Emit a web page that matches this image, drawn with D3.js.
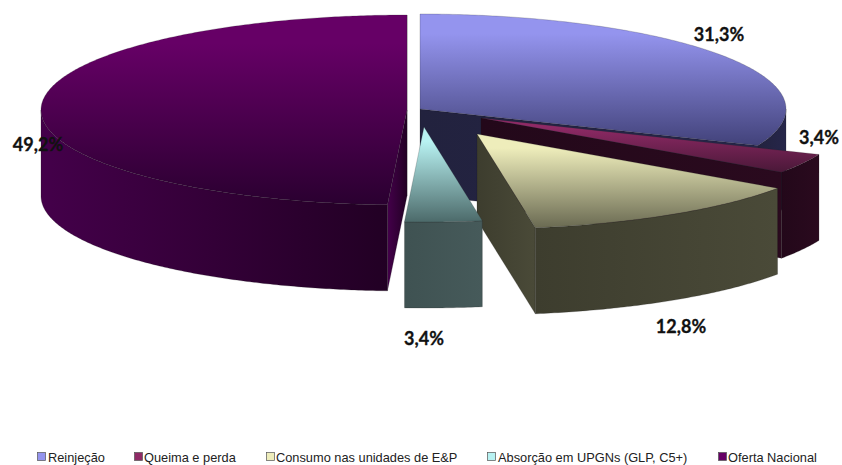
<!DOCTYPE html>
<html><head><meta charset="utf-8">
<script src="https://cdn.jsdelivr.net/npm/d3@7"></script>
<style>html,body{margin:0;padding:0;background:#fff}svg{display:block}</style>
</head><body><svg id="c" width="842" height="465"></svg>
<script>
const categories = ["Reinjeção","Queima e perda","Consumo nas unidades de E&P","Absorção em UPGNs (GLP, C5+)","Oferta Nacional"];
const values = [31.3,3.4,12.8,3.4,49.2];
const valueLabels = ["31,3%","3,4%","12,8%","3,4%","49,2%"];
const topLight = ["#9494ee","#8f2a66","#eeedbb","#b8f2f2","#660066"];
const topDark  = ["#42427a","#4a1838","#6a6a52","#4c6a6a","#2a0030"];
const wallA = ["#22223e","#23081a","#3d3d2e","#3f5252","#44004a"];
const wallB = ["#26264a","#2a0a1e","#4a4a38","#465a5a","#220024"];
const legendColor = ["#9494ee","#8f2a66","#eeedbb","#b8f2f2","#660066"];
const apexX = [420,481,477,424,407];
const apexY = [109,118,134,127,110];
const labelX = [719,819,681,424,38];
const labelY = [41,144,333,345,151];
const legendSq = [37,134,266,487,718];
const legendTx = [48,144,276,498,728];

const svg = d3.select("#c");
const rx = 366, ry = 95, depth = 86;
const defs = svg.append("defs");
const pie = d3.pie().sort(null).value(d=>d).startAngle(0).endAngle(2*Math.PI);
const arcs = pie(values);
const x = (i,t)=>apexX[i]+rx*Math.sin(t);
const y = (i,t)=>apexY[i]-ry*Math.cos(t);
const line = d3.line();
const angles = (a,b)=>{const r=d3.range(a,b,0.01);r.push(b);return r;};

categories.forEach((c,i)=>{
  const g1=defs.append("linearGradient").attr("id","top"+i).attr("x1",0).attr("x2",0).attr("y1",0).attr("y2",1);
  g1.append("stop").attr("offset",0).attr("stop-color",topLight[i]);
  g1.append("stop").attr("offset",0.15).attr("stop-color",topLight[i]);
  g1.append("stop").attr("offset",1).attr("stop-color",topDark[i]);
  const g2=defs.append("linearGradient").attr("id","wall"+i).attr("x1",0).attr("x2",1).attr("y1",0).attr("y2",0);
  g2.append("stop").attr("offset",0).attr("stop-color",wallA[i]);
  g2.append("stop").attr("offset",1).attr("stop-color",wallB[i]);
});

// back to front
arcs.map((a,i)=>[a,i]).sort((p,q)=>{const o=[4,0,1,2,3];return o.indexOf(p[1])-o.indexOf(q[1]);}).forEach(([a,i])=>{
  const g = svg.append("g");
  const wall = (pts)=>g.append("path").attr("d",line(pts)+"Z").attr("fill",`url(#wall${i})`).attr("stroke","#1a1a1a").attr("stroke-opacity",.35).attr("stroke-width",.6);
  const t0=a.startAngle,t1=a.endAngle;
  const ax=apexX[i],ay=apexY[i];
  if(Math.sin(t1)>0) wall([[ax,ay],[x(i,t1),y(i,t1)],[x(i,t1),y(i,t1)+depth],[ax,ay+depth]]);
  if(Math.sin(t0)<0) wall([[ax,ay],[x(i,t0),y(i,t0)],[x(i,t0),y(i,t0)+depth],[ax,ay+depth]]);
  const w0=Math.max(t0,Math.PI/2),w1=Math.min(t1,3*Math.PI/2);
  if(w1>w0){
    const up=angles(w0,w1).map(t=>[x(i,t),y(i,t)]);
    const dn=up.slice().reverse().map(p=>[p[0],p[1]+depth]);
    wall(up.concat(dn));
  }
  const pts=[[ax,ay]].concat(angles(t0,t1).map(t=>[x(i,t),y(i,t)]));
  g.append("path").attr("d",line(pts)+"Z").attr("fill",`url(#top${i})`).attr("stroke","#222").attr("stroke-opacity",.35).attr("stroke-width",.6);
});

svg.selectAll("text.v").data(valueLabels).join("text").attr("class","v")
  .attr("x",(d,i)=>labelX[i]).attr("y",(d,i)=>labelY[i]).attr("text-anchor","middle")
  .attr("font-family","Lato, 'Open Sans', sans-serif").attr("font-weight",700).attr("font-size",18)
  .attr("fill","#111").attr("stroke","#111").attr("stroke-width",.3).text(d=>d);

const lg = svg.selectAll("g.l").data(categories).join("g").attr("class","l");
lg.append("rect").attr("x",(d,i)=>legendSq[i]+.5).attr("y",452.5).attr("width",8).attr("height",8)
  .attr("fill",(d,i)=>legendColor[i]).attr("stroke","#555").attr("stroke-width",.7);
lg.append("text").attr("x",(d,i)=>legendTx[i]).attr("y",461.5)
  .attr("font-family","'Liberation Sans', Arial, sans-serif").attr("font-size",12.8).attr("fill","#222").text(d=>d);
</script></body></html>
